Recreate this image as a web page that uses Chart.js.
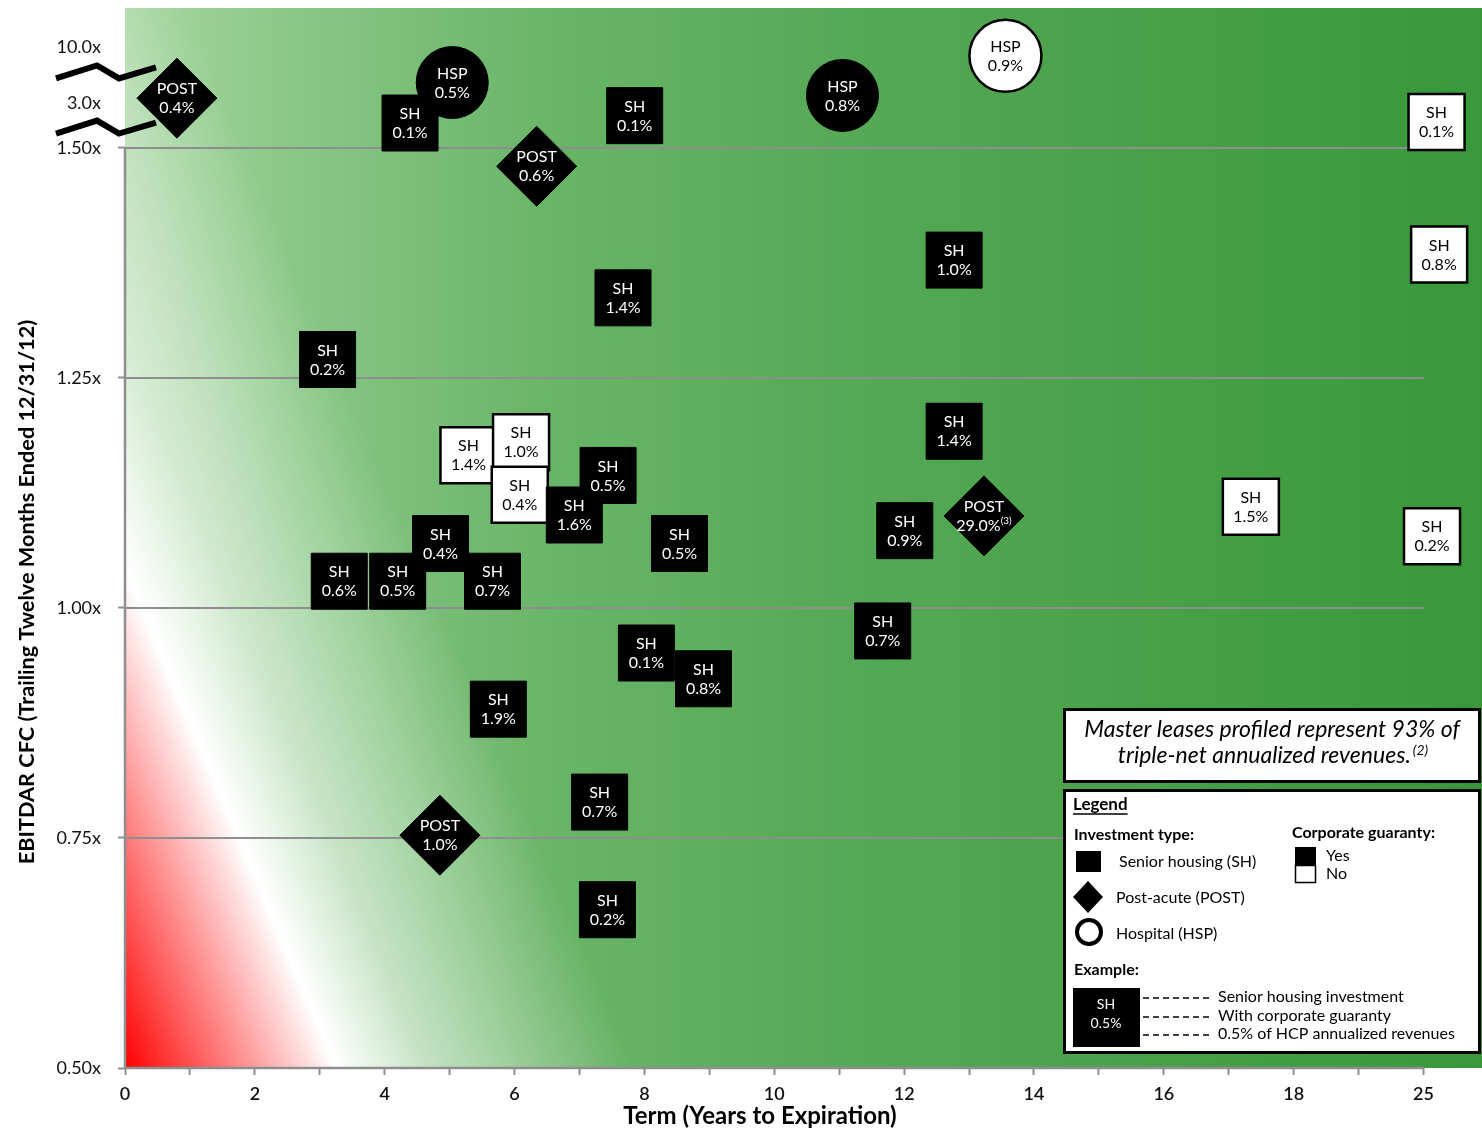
<!DOCTYPE html>
<html>
<head>
<meta charset="utf-8">
<title>Master lease coverage vs. term</title>
<script src="https://cdn.jsdelivr.net/npm/chart.js@4.4.1/dist/chart.umd.min.js"></script>
<style>
  html, body { margin: 0; padding: 0; background: #ffffff; }
  #wrap { width: 1482px; height: 1131px; }
</style>
</head>
<body>
<div id="wrap"><canvas id="chart" width="1482" height="1131"></canvas></div>
<script>
// ---- Lease data: one entry per master lease ----
const investmentType = ['POST','SH','HSP','SH','POST','HSP','HSP','SH','SH','SH','SH','SH','SH','SH','SH','SH','SH','SH','SH','SH','SH','SH','SH','SH','POST','SH','SH','SH','SH','SH','SH','SH','POST','SH'];
const termYears = [0.80,4.39,5.04,7.85,6.34,11.05,13.56,20.20,20.24,12.77,7.67,3.12,12.77,5.29,6.10,6.08,7.44,6.92,4.86,3.30,4.20,5.66,8.54,12.01,13.23,17.34,20.13,11.67,8.03,8.91,5.75,7.31,4.85,7.43];
const ebitdarCfc = [1.554,1.527,1.571,1.535,1.480,1.557,1.600,1.528,1.384,1.378,1.337,1.270,1.192,1.166,1.180,1.123,1.144,1.101,1.070,1.029,1.029,1.029,1.070,1.084,1.100,1.110,1.078,0.975,0.951,0.923,0.890,0.789,0.753,0.672];
const revenueShare = [0.4,0.1,0.5,0.1,0.6,0.8,0.9,0.1,0.8,1.0,1.4,0.2,1.4,1.4,1.0,0.4,0.5,1.6,0.4,0.6,0.5,0.7,0.5,0.9,29.0,1.5,0.2,0.7,0.1,0.8,1.9,0.7,1.0,0.2];
const corporateGuaranty = [true,true,true,true,true,true,false,false,false,true,true,true,true,false,false,false,true,true,true,true,true,true,true,true,true,false,false,true,true,true,true,true,true,true];
const footnoteRef = ['','','','','','','','','','','','','','','','','','','','','','','','','(3)','','','','','','','','',''];

// ---- Axis ticks ----
const xTickValues = [0,1,2,3,4,5,6,7,8,9,10,11,12,13,14,15,16,17,18,19,20];
const xTickLabels = ['0','','2','','4','','6','','8','','10','','12','','14','','16','','18','','25'];
const yTickValues = [0.5,0.75,1.0,1.25,1.5,1.549,1.609];
const yTickLabels = ['0.50x','0.75x','1.00x','1.25x','1.50x','3.0x','10.0x'];
const gridValues = [0.75,1.0,1.25,1.5];

const FONT = 'Lato, "Open Sans", "DejaVu Sans", sans-serif';
const AXIS_GREY = '#8e8e8e';

const shapeFor = { SH: 'rect', POST: 'rectRot', HSP: 'circle' };
const radiusFor = { SH: 39.6, POST: 40, HSP: 36 };

const points = termYears.map((t, i) => ({ x: t, y: ebitdarCfc[i] }));

// Background: green field darkening to the right, red-to-white wash from the origin corner
const backdrop = {
  id: 'backdrop',
  beforeDraw(chart) {
    const { ctx, chartArea: a } = chart;
    ctx.save();
    const g = ctx.createLinearGradient(a.left, 0, a.right, 0);
    g.addColorStop(0.00, 'rgb(168,214,162)');
    g.addColorStop(0.13, 'rgb(136,199,133)');
    g.addColorStop(0.31, 'rgb(106,181,104)');
    g.addColorStop(0.53, 'rgb(86,169,86)');
    g.addColorStop(0.75, 'rgb(72,161,72)');
    g.addColorStop(1.00, 'rgb(56,152,58)');
    ctx.fillStyle = g;
    ctx.fillRect(a.left, a.top, a.right - a.left, a.bottom - a.top);

    const nx = 0.92, ny = -0.39, L = 470;
    const w = ctx.createLinearGradient(a.left, a.bottom, a.left + nx * L, a.bottom + ny * L);
    w.addColorStop(0, 'rgba(255,0,0,1)');
    w.addColorStop(195 / L, 'rgba(255,255,255,1)');
    w.addColorStop(280 / L, 'rgba(255,255,255,0.55)');
    w.addColorStop(365 / L, 'rgba(255,255,255,0.3)');
    w.addColorStop(1, 'rgba(255,255,255,0)');
    ctx.fillStyle = w;
    ctx.fillRect(a.left, a.top, a.right - a.left, a.bottom - a.top);
    ctx.restore();
  }
};

// Gridlines, axis lines and the axis-break marks
const frame = {
  id: 'frame',
  beforeDatasetsDraw(chart) {
    const { ctx, scales: { x, y } } = chart;
    const x0 = x.getPixelForValue(0), x1 = x.getPixelForValue(20);
    ctx.save();
    ctx.strokeStyle = AXIS_GREY;
    ctx.lineWidth = 2;
    gridValues.forEach(v => {
      const py = Math.round(y.getPixelForValue(v));
      ctx.beginPath(); ctx.moveTo(x0, py); ctx.lineTo(x1, py); ctx.stroke();
    });
    ctx.lineWidth = 2.5;
    ctx.beginPath();
    ctx.moveTo(x0, y.getPixelForValue(1.5));
    ctx.lineTo(x0, y.getPixelForValue(0.5));
    ctx.lineTo(x1, y.getPixelForValue(0.5));
    ctx.stroke();

    // axis break zigzags
    ctx.strokeStyle = '#000';
    ctx.lineWidth = 6;
    ctx.lineJoin = 'miter';
    [1.582, 1.522].forEach(v => {
      const cy = y.getPixelForValue(v);
      ctx.beginPath();
      ctx.moveTo(56, cy + 6);
      ctx.lineTo(97, cy - 7);
      ctx.lineTo(119, cy + 6);
      ctx.lineTo(156, cy - 5);
      ctx.stroke();
    });
    ctx.restore();
  }
};

// Two-line labels inside each marker
const markerLabels = {
  id: 'markerLabels',
  afterDatasetsDraw(chart) {
    const { ctx } = chart;
    const meta = chart.getDatasetMeta(0);
    ctx.save();
    ctx.textBaseline = 'middle';
    meta.data.forEach((el, i) => {
      ctx.fillStyle = corporateGuaranty[i] ? '#ffffff' : '#000000';
      ctx.textAlign = 'center';
      ctx.font = '16px ' + FONT;
      ctx.fillText(investmentType[i], el.x, el.y - 9);
      const pct = revenueShare[i].toFixed(1) + '%';
      const note = footnoteRef[i];
      if (!note) {
        ctx.fillText(pct, el.x, el.y + 10);
      } else {
        const wMain = ctx.measureText(pct).width;
        ctx.font = '10px ' + FONT;
        const wNote = ctx.measureText(note).width;
        const start = el.x - (wMain + wNote) / 2;
        ctx.textAlign = 'left';
        ctx.font = '16px ' + FONT;
        ctx.fillText(pct, start, el.y + 10);
        ctx.font = '10px ' + FONT;
        ctx.fillText(note, start + wMain, el.y + 5);
      }
    });
    ctx.restore();
  }
};

// Axis titles, note box and legend panel
const panels = {
  id: 'panels',
  afterDraw(chart) {
    const { ctx } = chart;
    ctx.save();
    ctx.fillStyle = '#000';
    ctx.textBaseline = 'middle';

    // axis titles
    ctx.textAlign = 'center';
    ctx.font = 'bold 24px ' + FONT;
    ctx.fillText('Term (Years to Expiration)', 760, 1116);
    ctx.save();
    ctx.translate(27, 592);
    ctx.rotate(-Math.PI / 2);
    ctx.font = 'bold 21.7px ' + FONT;
    ctx.fillText('EBITDAR CFC (Trailing Twelve Months Ended 12/31/12)', 0, 0);
    ctx.restore();

    // note box
    ctx.fillStyle = '#fff';
    ctx.fillRect(1064, 709, 416, 73);
    ctx.strokeStyle = '#000';
    ctx.lineWidth = 3;
    ctx.strokeRect(1064.5, 709.5, 415, 72);
    ctx.fillStyle = '#000';
    ctx.font = 'italic 23px ' + FONT;
    ctx.textAlign = 'center';
    ctx.fillText('Master leases profiled represent 93% of', 1272, 730);
    const line2 = 'triple-net annualized revenues.';
    const w2 = ctx.measureText(line2).width;
    ctx.font = 'italic 14px ' + FONT;
    const wSup = ctx.measureText('(2)').width;
    const s2 = 1272 - (w2 + wSup) / 2;
    ctx.textAlign = 'left';
    ctx.font = 'italic 23px ' + FONT;
    ctx.fillText(line2, s2, 756);
    ctx.font = 'italic 14px ' + FONT;
    ctx.fillText('(2)', s2 + w2 + 2, 750);

    // legend box
    ctx.fillStyle = '#fff';
    ctx.fillRect(1064, 790, 416, 263);
    ctx.lineWidth = 3;
    ctx.strokeRect(1064.5, 790.5, 415, 262);
    ctx.fillStyle = '#000';
    ctx.textAlign = 'left';
    ctx.font = 'bold 17px ' + FONT;
    ctx.fillText('Legend', 1073, 805);
    const lw = ctx.measureText('Legend').width;
    ctx.lineWidth = 1.5;
    ctx.beginPath(); ctx.moveTo(1073, 814); ctx.lineTo(1073 + lw, 814); ctx.stroke();

    ctx.font = 'bold 16px ' + FONT;
    ctx.fillText('Investment type:', 1074, 835);
    ctx.fillText('Corporate guaranty:', 1292, 833);

    // shape keys
    ctx.fillRect(1076, 851, 25, 21);
    ctx.beginPath();
    ctx.moveTo(1088, 881); ctx.lineTo(1103, 897); ctx.lineTo(1088, 913); ctx.lineTo(1073, 897);
    ctx.closePath(); ctx.fill();
    ctx.lineWidth = 4;
    ctx.beginPath(); ctx.arc(1089, 932, 12, 0, Math.PI * 2); ctx.stroke();

    ctx.font = '16px ' + FONT;
    ctx.fillText('Senior housing (SH)', 1119, 862);
    ctx.fillText('Post-acute (POST)', 1116, 898);
    ctx.fillText('Hospital (HSP)', 1116, 934);

    // guaranty keys
    ctx.fillRect(1295, 847, 21, 18);
    ctx.lineWidth = 1.5;
    ctx.strokeRect(1295.5, 865.5, 20, 17);
    ctx.fillText('Yes', 1326, 856);
    ctx.fillText('No', 1326, 874);

    // example
    ctx.font = 'bold 16px ' + FONT;
    ctx.fillText('Example:', 1074, 970);
    ctx.fillRect(1073, 988, 67, 59);
    ctx.fillStyle = '#fff';
    ctx.textAlign = 'center';
    ctx.font = '14px ' + FONT;
    ctx.fillText('SH', 1106, 1004);
    ctx.fillText('0.5%', 1106, 1023);
    ctx.fillStyle = '#000';
    ctx.textAlign = 'left';
    ctx.lineWidth = 1.5;
    ctx.setLineDash([6, 4]);
    [998, 1017, 1035].forEach(py => {
      ctx.beginPath(); ctx.moveTo(1143, py); ctx.lineTo(1212, py); ctx.stroke();
    });
    ctx.setLineDash([]);
    ctx.font = '16px ' + FONT;
    ctx.fillText('Senior housing investment', 1218, 997);
    ctx.fillText('With corporate guaranty', 1218, 1016);
    ctx.fillText('0.5% of HCP annualized revenues', 1218, 1034);
    ctx.restore();
  }
};

new Chart(document.getElementById('chart'), {
  type: 'scatter',
  data: {
    datasets: [{
      data: points,
      pointStyle: ctx => shapeFor[investmentType[ctx.dataIndex]],
      pointRadius: ctx => radiusFor[investmentType[ctx.dataIndex]],
      pointHoverRadius: ctx => radiusFor[investmentType[ctx.dataIndex]],
      pointBackgroundColor: ctx => corporateGuaranty[ctx.dataIndex] ? '#000000' : '#ffffff',
      pointBorderColor: '#000000',
      pointBorderWidth: ctx => corporateGuaranty[ctx.dataIndex] ? 1 : 2.5,
      clip: false
    }]
  },
  options: {
    responsive: false,
    animation: false,
    events: [],
    layout: { autoPadding: false, padding: { top: 8, left: 0, right: 0, bottom: 0 } },
    plugins: { legend: { display: false }, tooltip: { enabled: false } },
    scales: {
      x: {
        type: 'linear',
        min: 0,
        max: 20.9,
        afterBuildTicks: s => { s.ticks = xTickValues.map(v => ({ value: v })); },
        afterFit: s => { s.height = 63; s.paddingLeft = 0; s.paddingRight = 0; },
        border: { display: false },
        grid: { drawOnChartArea: false, drawTicks: true, tickLength: 7, tickColor: AXIS_GREY, tickWidth: 2 },
        ticks: {
          autoSkip: false, maxRotation: 0, padding: 8, color: '#111',
          font: { family: FONT, size: 18, weight: '600' },
          callback: (v, i) => xTickLabels[i]
        }
      },
      y: {
        type: 'linear',
        min: 0.5,
        max: 1.652,
        afterBuildTicks: s => { s.ticks = yTickValues.map(v => ({ value: v })); },
        afterFit: s => { s.width = 125; s.paddingTop = 0; s.paddingBottom = 0; },
        border: { display: false },
        grid: {
          drawOnChartArea: false, drawTicks: true, tickLength: 7, tickWidth: 2,
          tickColor: c => (c.tick && c.tick.value > 1.5) ? 'rgba(0,0,0,0)' : AXIS_GREY
        },
        ticks: {
          autoSkip: false, padding: 17, color: '#111',
          font: { family: FONT, size: 18 },
          callback: (v, i) => yTickLabels[i]
        }
      }
    }
  },
  plugins: [backdrop, frame, markerLabels, panels]
});
</script>
</body>
</html>
